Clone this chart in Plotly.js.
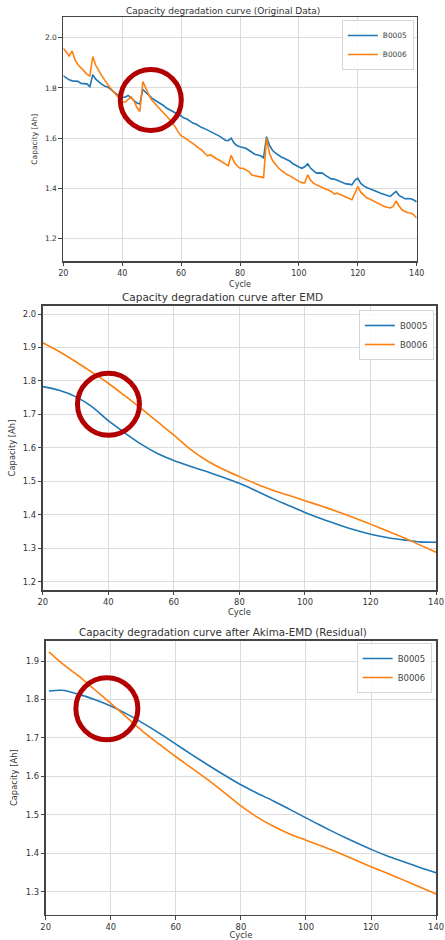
<!DOCTYPE html>
<html>
<head>
<meta charset="utf-8">
<script src="https://cdn.plot.ly/plotly-3.0.1.min.js"></script>
<style>html,body{margin:0;padding:0;background:#fff;}#chart{width:445px;height:940px;}</style>
</head>
<body>
<div id="chart"></div>
<script>
// ---------- data ----------
const cyclesOrig = [];
for (let c = 20; c <= 140; c++) cyclesOrig.push(c);

const origB0005 = [1.848,1.840,1.832,1.828,1.828,1.826,1.818,1.817,1.816,1.805,
1.853,1.835,1.823,1.815,1.808,1.804,1.795,1.785,1.775,1.766,
1.764,1.763,1.770,1.760,1.750,1.740,1.736,1.795,1.782,1.770,
1.760,1.752,1.745,1.740,1.730,1.720,1.714,1.708,1.702,1.696,
1.688,1.680,1.676,1.668,1.660,1.656,1.648,1.642,1.638,1.632,
1.628,1.620,1.614,1.608,1.600,1.592,1.590,1.600,1.580,1.570,
1.566,1.564,1.560,1.552,1.545,1.536,1.533,1.530,1.522,1.606,
1.572,1.552,1.541,1.532,1.525,1.520,1.514,1.508,1.498,1.490,
1.485,1.480,1.486,1.498,1.480,1.470,1.461,1.462,1.461,1.452,
1.445,1.438,1.437,1.432,1.426,1.420,1.418,1.417,1.414,1.432,
1.441,1.420,1.410,1.404,1.400,1.395,1.390,1.385,1.380,1.375,
1.372,1.368,1.378,1.388,1.372,1.365,1.359,1.360,1.359,1.354,
1.347];

const origB0006 = [1.958,1.942,1.927,1.947,1.910,1.892,1.880,1.870,1.855,1.848,
1.925,1.890,1.868,1.850,1.832,1.818,1.800,1.785,1.772,1.758,
1.745,1.743,1.755,1.765,1.748,1.722,1.706,1.825,1.800,1.772,
1.752,1.740,1.728,1.712,1.700,1.688,1.675,1.660,1.645,1.625,
1.610,1.603,1.595,1.585,1.580,1.570,1.560,1.553,1.540,1.530,
1.534,1.525,1.518,1.512,1.505,1.496,1.490,1.532,1.505,1.490,
1.480,1.480,1.475,1.468,1.453,1.452,1.448,1.446,1.443,1.600,
1.540,1.512,1.495,1.482,1.472,1.463,1.455,1.450,1.442,1.435,
1.428,1.423,1.422,1.454,1.432,1.420,1.414,1.408,1.402,1.398,
1.394,1.388,1.378,1.381,1.376,1.370,1.365,1.360,1.355,1.380,
1.408,1.385,1.372,1.363,1.358,1.352,1.345,1.338,1.332,1.328,
1.325,1.322,1.328,1.350,1.330,1.315,1.308,1.303,1.302,1.295,
1.282];

const cyclesEmd = [20,25,30,35,40,45,50,55,60,65,70,75,80,85,90,95,100,105,110,115,120,125,130,135,140];
const emdB0005 = [1.783,1.772,1.753,1.723,1.681,1.645,1.611,1.583,1.562,1.545,1.529,1.512,1.494,1.472,1.449,1.428,1.407,1.388,1.371,1.355,1.342,1.332,1.325,1.319,1.318];
const emdB0006 = [1.914,1.888,1.858,1.826,1.793,1.756,1.718,1.678,1.638,1.596,1.562,1.536,1.514,1.493,1.474,1.458,1.442,1.426,1.409,1.391,1.372,1.352,1.332,1.310,1.288];

const cyclesAkima = [21,25,30,35,40,45,50,55,60,65,70,75,80,85,90,95,100,105,110,115,120,125,130,135,140];
const akimaB0005 = [1.822,1.824,1.814,1.800,1.783,1.762,1.738,1.712,1.684,1.656,1.629,1.603,1.578,1.556,1.536,1.514,1.492,1.470,1.449,1.429,1.410,1.393,1.378,1.363,1.349];
const akimaB0006 = [1.924,1.894,1.862,1.826,1.790,1.753,1.716,1.683,1.651,1.621,1.590,1.557,1.523,1.494,1.470,1.450,1.434,1.418,1.401,1.383,1.365,1.348,1.330,1.312,1.294];

const seriesNames = ['B0005','B0006'];
const titles = ['Capacity degradation curve (Original Data)',
                'Capacity degradation curve after EMD',
                'Capacity degradation curve after Akima-EMD (Residual)'];
const xTicks = [20,40,60,80,100,120,140];

// ---------- styling ----------
const BLUE = '#1f77b4', ORANGE = '#ff7f0e';
const FONT = 'DejaVu Sans, sans-serif';
const TXT = '#333';

function tr(x, y, name, color, xa, ya, leg, shape) {
  return {x: x, y: y, name: name, type: 'scatter', mode: 'lines',
    line: {color: color, width: 1.6, shape: shape || 'linear', smoothing: 0.8},
    xaxis: xa, yaxis: ya, legend: leg, hoverinfo: 'skip'};
}

const data = [
  tr(cyclesOrig, origB0005, seriesNames[0], BLUE, 'x', 'y', 'legend'),
  tr(cyclesOrig, origB0006, seriesNames[1], ORANGE, 'x', 'y', 'legend'),
  tr(cyclesEmd, emdB0005, seriesNames[0], BLUE, 'x2', 'y2', 'legend2', 'spline'),
  tr(cyclesEmd, emdB0006, seriesNames[1], ORANGE, 'x2', 'y2', 'legend2', 'spline'),
  tr(cyclesAkima, akimaB0005, seriesNames[0], BLUE, 'x3', 'y3', 'legend3', 'spline'),
  tr(cyclesAkima, akimaB0006, seriesNames[1], ORANGE, 'x3', 'y3', 'legend3', 'spline')
];

function xax(domain, anchor, fs, standoff) {
  return {domain: domain, anchor: anchor, range: [20, 140], tickvals: xTicks,
    showgrid: true, gridcolor: '#dcdcdc', gridwidth: 1, zeroline: false,
    showline: true, mirror: true, linecolor: '#444', linewidth: 1.5,
    ticks: 'outside', ticklen: 3.5, tickwidth: 1, tickcolor: '#444',
    ticklabeloverflow: 'allow',
    tickfont: {family: FONT, size: fs, color: TXT},
    title: {text: 'Cycle', font: {family: FONT, size: fs, color: TXT}, standoff: standoff},
    automargin: false};
}
function yax(domain, anchor, range, dtick, fs, standoff) {
  return {domain: domain, anchor: anchor, range: range, dtick: dtick, tick0: 0,
    tickformat: '.1f',
    showgrid: true, gridcolor: '#dcdcdc', gridwidth: 1, zeroline: false,
    showline: true, mirror: true, linecolor: '#444', linewidth: 1.5,
    ticks: 'outside', ticklen: 3.5, tickwidth: 1, tickcolor: '#444',
    ticklabeloverflow: 'allow',
    tickfont: {family: FONT, size: fs, color: TXT},
    title: {text: 'Capacity [Ah]', font: {family: FONT, size: fs, color: TXT}, standoff: standoff},
    automargin: false};
}
function legendAt(x, y, fs) {
  return {x: x, y: y, xanchor: 'right', yanchor: 'top', xref: 'paper', yref: 'paper',
    bgcolor: 'rgba(255,255,255,0.85)', bordercolor: '#d6d6d6', borderwidth: 1,
    font: {family: FONT, size: fs, color: '#444'}, itemwidth: 30, tracegroupgap: 0};
}
function circle(xa, ya, cx, cy, r) {
  return {type: 'circle', xref: xa, yref: ya, xsizemode: 'pixel', ysizemode: 'pixel',
    xanchor: cx, yanchor: cy, x0: -r, x1: r, y0: -r, y1: r,
    line: {color: '#b30000', width: 5}, fillcolor: 'rgba(0,0,0,0)', layer: 'above'};
}
function ttl(text, y, fs) {
  return {text: text, xref: 'paper', yref: 'paper', x: 0.5, y: y, xanchor: 'center', yanchor: 'middle',
    showarrow: false, font: {family: FONT, size: fs, color: TXT}};
}

const H = 940;
const layout = {
  width: 445, height: 940,
  margin: {l: 0, r: 0, t: 0, b: 0},
  paper_bgcolor: '#fff', plot_bgcolor: '#fff',
  showlegend: true,
  xaxis: xax([0.1423, 0.9364], 'y', 8, 5),
  yaxis: yax([0.7223, 0.9816], 'x', [1.111, 2.081], 0.2, 7.5, 6),
  xaxis2: xax([0.0960, 0.9800], 'y2', 8.4, 3),
  yaxis2: yax([0.3723, 0.6745], 'x2', [1.175, 2.024], 0.1, 8.4, 6),
  xaxis3: xax([0.1027, 0.9800], 'y3', 8.4, 3),
  yaxis3: yax([0.0269, 0.3184], 'x3', [1.240, 1.953], 0.1, 8.4, 6),
  legend: legendAt(0.930, 1 - 20 / H, 7.4),
  legend2: legendAt(0.975, 1 - 310 / H, 8.5),
  legend3: legendAt(0.970, 1 - 643 / H, 8.5),
  annotations: [
    ttl(titles[0], 1 - 11 / H, 9),
    ttl(titles[1], 1 - 297 / H, 10.5),
    ttl(titles[2], 1 - 632 / H, 10.3)
  ],
  shapes: [
    circle('x', 'y', 49.7, 1.752, 30.5),
    circle('x2', 'y2', 40.06, 1.730, 31),
    circle('x3', 'y3', 38.8, 1.776, 31)
  ]
};

Plotly.newPlot('chart', data, layout, {displayModeBar: false, staticPlot: true});
</script>
</body>
</html>
